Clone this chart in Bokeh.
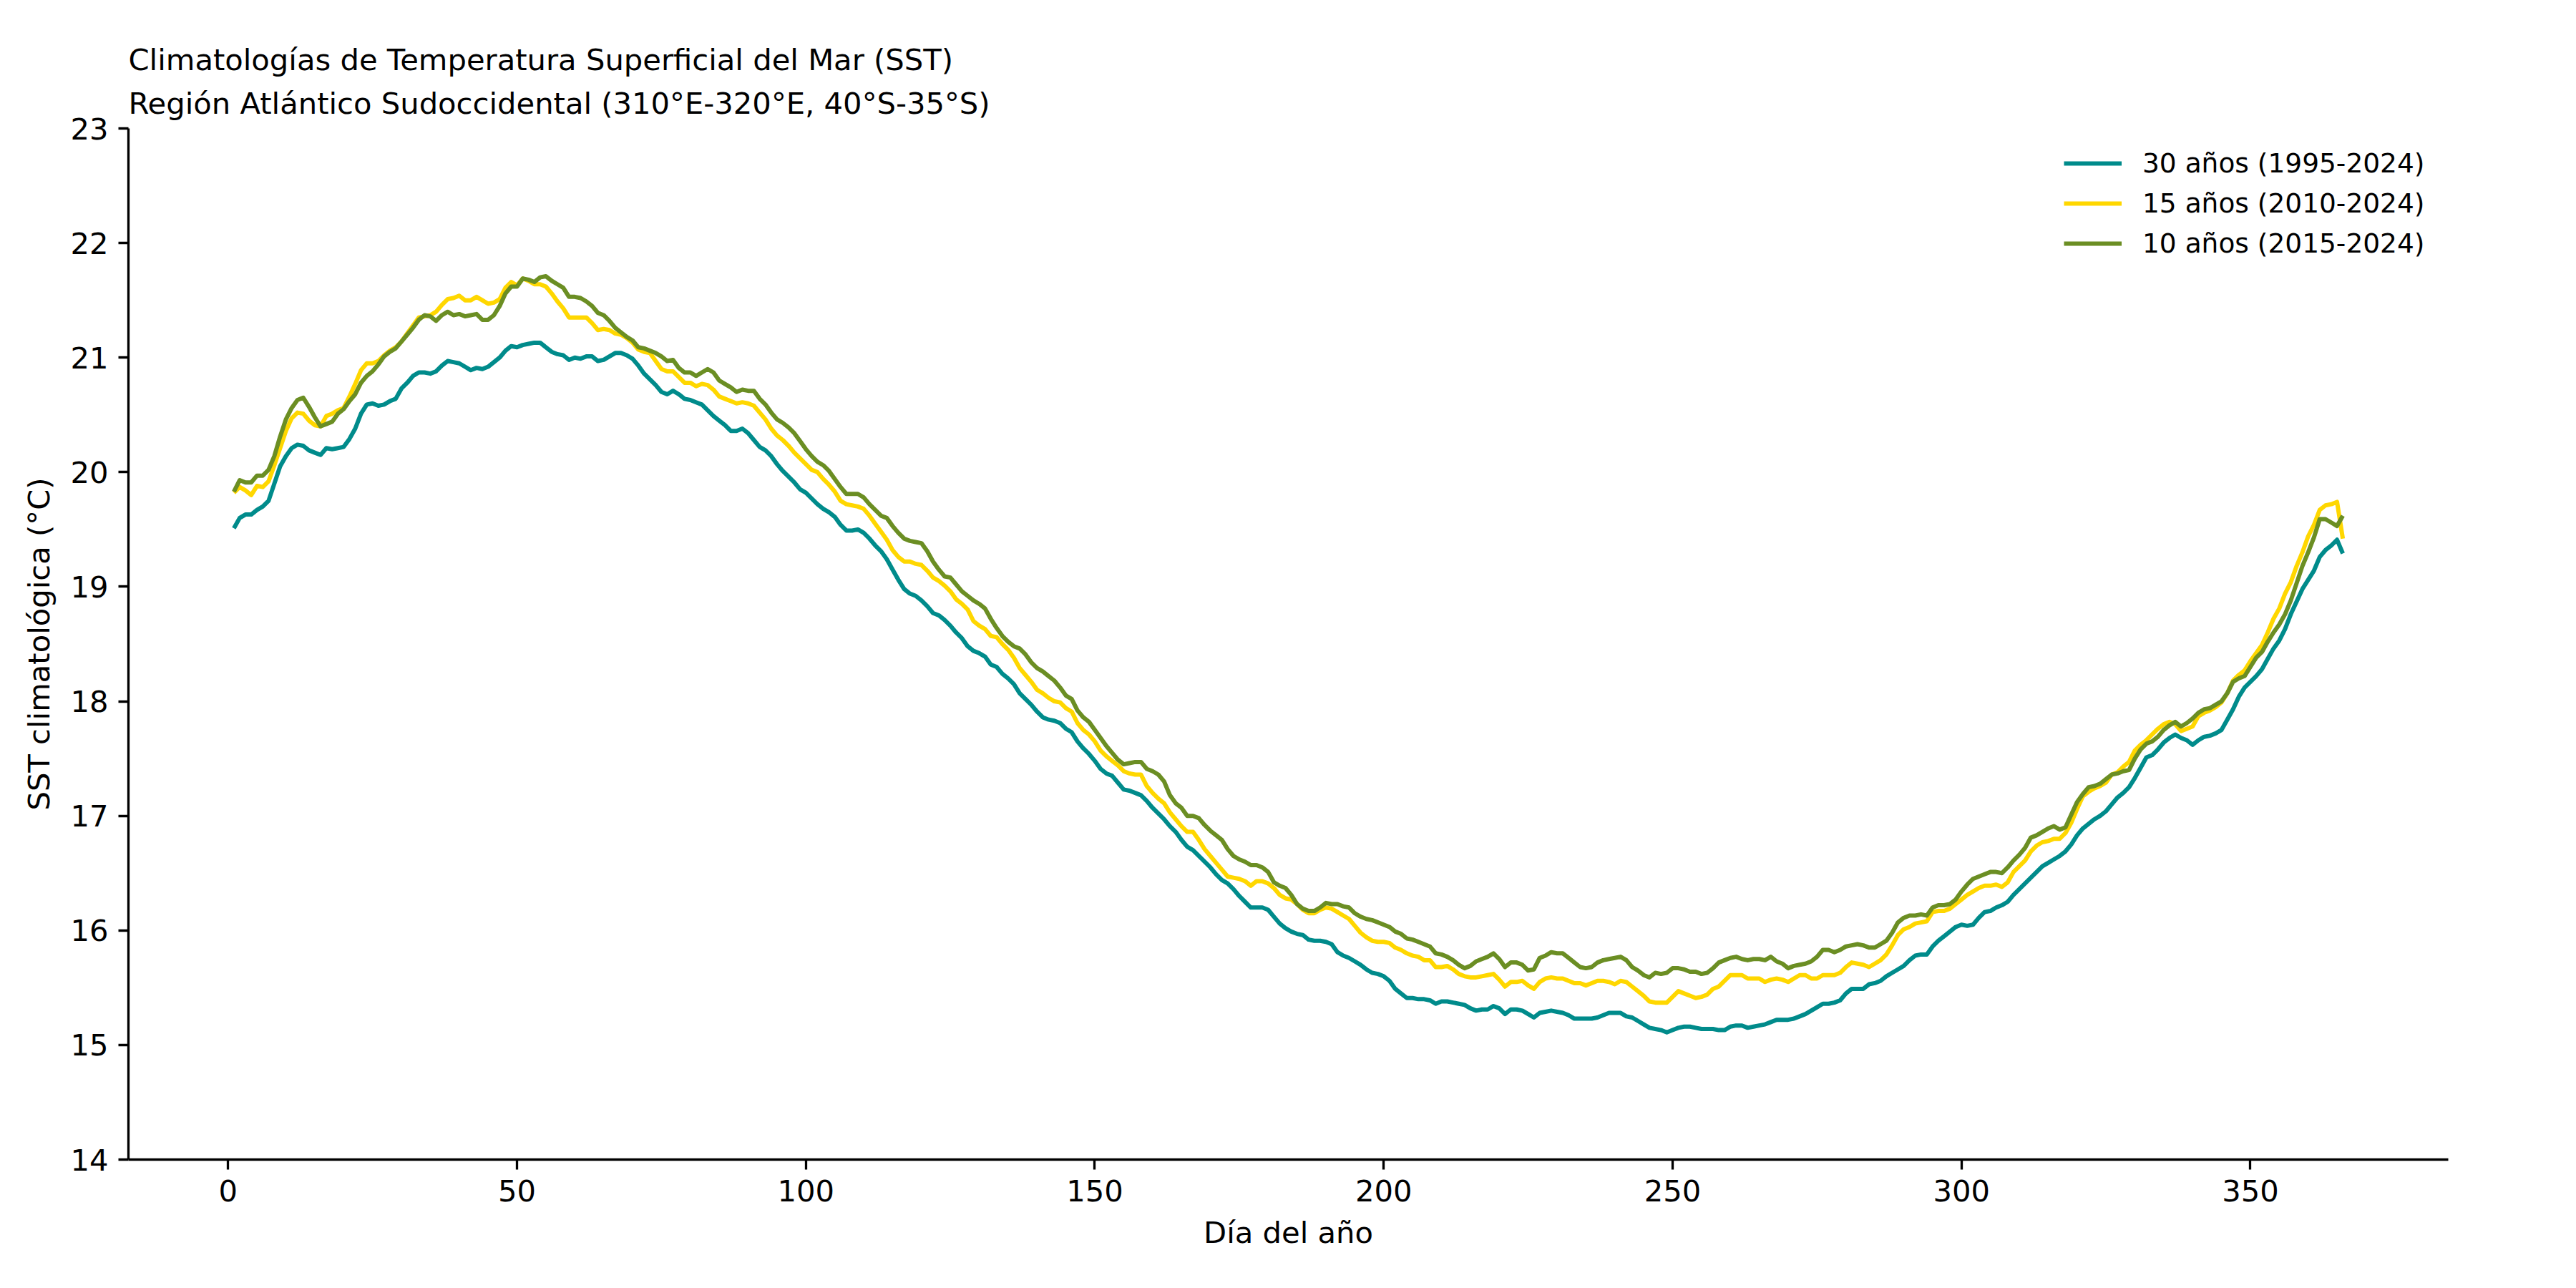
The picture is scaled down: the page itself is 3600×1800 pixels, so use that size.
from bokeh.plotting import figure
from bokeh.models import Range1d, FixedTicker, Title
from bokeh.embed import file_html
from bokeh.resources import INLINE

# Day of year 1..366
days = list(range(1, 367))

# Climatological SST (°C), 30-year baseline 1995-2024
sst_30 = [
    19.51, 19.60, 19.63, 19.63, 19.67, 19.70, 19.75, 19.90, 20.05, 20.14,
    20.21, 20.24, 20.23, 20.19, 20.17, 20.15, 20.21, 20.20, 20.21, 20.22,
    20.29, 20.38, 20.51, 20.59, 20.60, 20.58, 20.59, 20.62, 20.64, 20.73,
    20.78, 20.84, 20.87, 20.87, 20.86, 20.88, 20.93, 20.97, 20.96, 20.95,
    20.92, 20.89, 20.91, 20.90, 20.92, 20.96, 21.00, 21.06, 21.10, 21.09,
    21.11, 21.12, 21.13, 21.13, 21.09, 21.05, 21.03, 21.02, 20.98, 21.00,
    20.99, 21.01, 21.01, 20.97, 20.98, 21.01, 21.04, 21.04, 21.02, 20.99,
    20.93, 20.86, 20.81, 20.76, 20.70, 20.68, 20.71, 20.68, 20.64, 20.63,
    20.61, 20.59, 20.54, 20.49, 20.45, 20.41, 20.36, 20.36, 20.38, 20.34,
    20.28, 20.22, 20.19, 20.14, 20.07, 20.01, 19.96, 19.91, 19.85, 19.82,
    19.77, 19.72, 19.68, 19.65, 19.61, 19.54, 19.49, 19.49, 19.50, 19.47,
    19.42, 19.36, 19.31, 19.24, 19.15, 19.06, 18.98, 18.94, 18.92, 18.88,
    18.83, 18.77, 18.75, 18.71, 18.66, 18.60, 18.55, 18.48, 18.44, 18.42,
    18.39, 18.32, 18.30, 18.24, 18.20, 18.15, 18.07, 18.02, 17.97, 17.91,
    17.86, 17.84, 17.83, 17.81, 17.76, 17.73, 17.65, 17.59, 17.54, 17.48,
    17.41, 17.37, 17.35, 17.29, 17.23, 17.22, 17.20, 17.18, 17.13, 17.07,
    17.02, 16.97, 16.91, 16.86, 16.79, 16.73, 16.70, 16.65, 16.60, 16.55,
    16.49, 16.44, 16.41, 16.36, 16.30, 16.25, 16.20, 16.20, 16.20, 16.18,
    16.12, 16.06, 16.02, 15.99, 15.97, 15.96, 15.92, 15.91, 15.91, 15.90,
    15.88, 15.81, 15.78, 15.76, 15.73, 15.70, 15.66, 15.63, 15.62, 15.60,
    15.56, 15.49, 15.45, 15.41, 15.41, 15.40, 15.40, 15.39, 15.36, 15.38,
    15.38, 15.37, 15.36, 15.35, 15.32, 15.30, 15.31, 15.31, 15.34, 15.32,
    15.27, 15.31, 15.31, 15.30, 15.27, 15.24, 15.28, 15.29, 15.30, 15.29,
    15.28, 15.26, 15.23, 15.23, 15.23, 15.23, 15.24, 15.26, 15.28, 15.28,
    15.28, 15.25, 15.24, 15.21, 15.18, 15.15, 15.14, 15.13, 15.11, 15.13,
    15.15, 15.16, 15.16, 15.15, 15.14, 15.14, 15.14, 15.13, 15.13, 15.16,
    15.17, 15.17, 15.15, 15.16, 15.17, 15.18, 15.20, 15.22, 15.22, 15.22,
    15.23, 15.25, 15.27, 15.30, 15.33, 15.36, 15.36, 15.37, 15.39, 15.45,
    15.49, 15.49, 15.49, 15.53, 15.54, 15.56, 15.60, 15.63, 15.66, 15.69,
    15.74, 15.78, 15.79, 15.79, 15.86, 15.91, 15.95, 15.99, 16.03, 16.05,
    16.04, 16.05, 16.11, 16.16, 16.17, 16.20, 16.22, 16.25, 16.31, 16.36,
    16.41, 16.46, 16.51, 16.56, 16.59, 16.62, 16.65, 16.69, 16.75, 16.83,
    16.89, 16.93, 16.97, 17.00, 17.04, 17.10, 17.16, 17.20, 17.25, 17.33,
    17.42, 17.51, 17.53, 17.58, 17.64, 17.68, 17.71, 17.68, 17.66, 17.62,
    17.66, 17.69, 17.70, 17.72, 17.75, 17.84, 17.93, 18.04, 18.12, 18.17,
    18.22, 18.28, 18.37, 18.46, 18.53, 18.63, 18.76, 18.87, 18.98, 19.06,
    19.14, 19.26, 19.32, 19.36, 19.41, 19.29,
]

# Climatological SST (°C), 15-year baseline 2010-2024
sst_15 = [
    19.82, 19.87, 19.84, 19.80, 19.88, 19.87, 19.92, 20.06, 20.21, 20.36,
    20.47, 20.52, 20.51, 20.45, 20.41, 20.40, 20.49, 20.51, 20.54, 20.56,
    20.66, 20.77, 20.89, 20.95, 20.95, 20.97, 21.02, 21.06, 21.09, 21.14,
    21.21, 21.28, 21.35, 21.36, 21.37, 21.40, 21.46, 21.51, 21.52, 21.54,
    21.50, 21.50, 21.53, 21.50, 21.47, 21.48, 21.51, 21.61, 21.66, 21.63,
    21.69, 21.67, 21.64, 21.64, 21.62, 21.56, 21.49, 21.43, 21.35, 21.35,
    21.35, 21.35, 21.30, 21.24, 21.25, 21.24, 21.21, 21.20, 21.17, 21.13,
    21.07, 21.05, 21.04, 20.97, 20.90, 20.88, 20.88, 20.83, 20.78, 20.78,
    20.75, 20.77, 20.76, 20.72, 20.66, 20.64, 20.62, 20.60, 20.61, 20.60,
    20.58, 20.52, 20.46, 20.38, 20.32, 20.28, 20.23, 20.17, 20.12, 20.07,
    20.02, 20.00, 19.94, 19.89, 19.83, 19.75, 19.72, 19.71, 19.70, 19.68,
    19.62, 19.55, 19.48, 19.41, 19.32, 19.26, 19.22, 19.22, 19.20, 19.19,
    19.14, 19.08, 19.05, 19.01, 18.96, 18.89, 18.85, 18.80, 18.70, 18.66,
    18.63, 18.57, 18.56, 18.50, 18.45, 18.38, 18.29, 18.23, 18.17, 18.10,
    18.07, 18.03, 18.00, 17.99, 17.94, 17.91, 17.81, 17.75, 17.71, 17.65,
    17.57, 17.52, 17.48, 17.44, 17.39, 17.37, 17.36, 17.36, 17.26, 17.20,
    17.15, 17.11, 17.03, 16.97, 16.91, 16.86, 16.86, 16.79, 16.71, 16.65,
    16.59, 16.53, 16.47, 16.46, 16.45, 16.43, 16.39, 16.43, 16.43, 16.41,
    16.37, 16.31, 16.28, 16.27, 16.23, 16.18, 16.15, 16.15, 16.18, 16.20,
    16.19, 16.16, 16.13, 16.10, 16.04, 15.98, 15.94, 15.91, 15.90, 15.90,
    15.89, 15.85, 15.83, 15.80, 15.78, 15.77, 15.74, 15.74, 15.68, 15.68,
    15.69, 15.66, 15.62, 15.60, 15.59, 15.59, 15.60, 15.61, 15.62, 15.57,
    15.51, 15.55, 15.55, 15.56, 15.52, 15.49, 15.55, 15.58, 15.59, 15.58,
    15.58, 15.56, 15.54, 15.54, 15.52, 15.54, 15.56, 15.56, 15.55, 15.53,
    15.56, 15.55, 15.51, 15.47, 15.43, 15.38, 15.37, 15.37, 15.37, 15.42,
    15.47, 15.45, 15.43, 15.41, 15.42, 15.44, 15.49, 15.51, 15.56, 15.61,
    15.61, 15.61, 15.58, 15.58, 15.58, 15.55, 15.57, 15.58, 15.57, 15.55,
    15.58, 15.61, 15.61, 15.58, 15.58, 15.61, 15.61, 15.61, 15.63, 15.68,
    15.72, 15.71, 15.70, 15.68, 15.71, 15.74, 15.79, 15.87, 15.96, 16.01,
    16.03, 16.06, 16.07, 16.08, 16.16, 16.17, 16.17, 16.19, 16.23, 16.27,
    16.31, 16.34, 16.37, 16.39, 16.39, 16.40, 16.38, 16.42, 16.51, 16.56,
    16.61, 16.69, 16.74, 16.77, 16.78, 16.80, 16.80, 16.85, 16.94, 17.06,
    17.17, 17.21, 17.24, 17.26, 17.29, 17.36, 17.38, 17.43, 17.47, 17.57,
    17.62, 17.66, 17.71, 17.76, 17.80, 17.82, 17.80, 17.74, 17.76, 17.78,
    17.87, 17.90, 17.92, 17.95, 17.99, 18.07, 18.18, 18.23, 18.27, 18.35,
    18.42, 18.49, 18.60, 18.72, 18.81, 18.94, 19.04, 19.18, 19.30, 19.44,
    19.54, 19.67, 19.71, 19.72, 19.74, 19.42,
]

# Climatological SST (°C), 10-year baseline 2015-2024
sst_10 = [
    19.83, 19.93, 19.91, 19.91, 19.97, 19.97, 20.02, 20.14, 20.31, 20.46,
    20.56, 20.63, 20.65, 20.57, 20.48, 20.40, 20.42, 20.44, 20.51, 20.55,
    20.62, 20.68, 20.78, 20.84, 20.88, 20.94, 21.01, 21.05, 21.08, 21.14,
    21.20, 21.26, 21.33, 21.37, 21.36, 21.32, 21.37, 21.40, 21.37, 21.38,
    21.36, 21.37, 21.38, 21.33, 21.33, 21.37, 21.45, 21.56, 21.62, 21.62,
    21.69, 21.68, 21.66, 21.70, 21.71, 21.67, 21.64, 21.61, 21.53, 21.53,
    21.52, 21.49, 21.45, 21.39, 21.37, 21.32, 21.26, 21.22, 21.18, 21.15,
    21.09, 21.08, 21.06, 21.04, 21.01, 20.97, 20.98, 20.91, 20.87, 20.87,
    20.84, 20.87, 20.90, 20.87, 20.80, 20.77, 20.74, 20.70, 20.72, 20.71,
    20.71, 20.64, 20.59, 20.52, 20.46, 20.43, 20.39, 20.34, 20.27, 20.20,
    20.14, 20.09, 20.06, 20.01, 19.94, 19.87, 19.81, 19.81, 19.81, 19.78,
    19.72, 19.67, 19.62, 19.60, 19.53, 19.47, 19.42, 19.40, 19.39, 19.38,
    19.31, 19.22, 19.15, 19.09, 19.08, 19.02, 18.96, 18.92, 18.88, 18.85,
    18.81, 18.72, 18.64, 18.57, 18.52, 18.48, 18.46, 18.41, 18.34, 18.29,
    18.26, 18.22, 18.18, 18.12, 18.05, 18.02, 17.92, 17.86, 17.82, 17.75,
    17.68, 17.61, 17.55, 17.49, 17.45, 17.46, 17.47, 17.47, 17.41, 17.39,
    17.36, 17.30, 17.18, 17.11, 17.07, 17.00, 17.00, 16.98, 16.92, 16.87,
    16.83, 16.79, 16.71, 16.65, 16.62, 16.60, 16.57, 16.57, 16.55, 16.51,
    16.42, 16.39, 16.37, 16.31, 16.23, 16.19, 16.17, 16.17, 16.20, 16.24,
    16.23, 16.23, 16.21, 16.20, 16.15, 16.12, 16.10, 16.09, 16.07, 16.05,
    16.03, 15.99, 15.97, 15.93, 15.92, 15.90, 15.88, 15.86, 15.80, 15.79,
    15.77, 15.74, 15.70, 15.67, 15.69, 15.73, 15.75, 15.77, 15.80, 15.75,
    15.68, 15.72, 15.72, 15.70, 15.65, 15.66, 15.76, 15.78, 15.81, 15.80,
    15.80, 15.76, 15.72, 15.68, 15.67, 15.68, 15.72, 15.74, 15.75, 15.76,
    15.77, 15.74, 15.68, 15.65, 15.61, 15.59, 15.63, 15.62, 15.63, 15.67,
    15.67, 15.66, 15.64, 15.64, 15.62, 15.63, 15.67, 15.72, 15.74, 15.76,
    15.77, 15.75, 15.74, 15.75, 15.75, 15.74, 15.77, 15.73, 15.71, 15.67,
    15.69, 15.70, 15.71, 15.73, 15.77, 15.83, 15.83, 15.81, 15.83, 15.86,
    15.87, 15.88, 15.87, 15.85, 15.85, 15.88, 15.91, 15.98, 16.07, 16.11,
    16.13, 16.13, 16.14, 16.13, 16.20, 16.22, 16.22, 16.23, 16.27, 16.34,
    16.40, 16.45, 16.47, 16.49, 16.51, 16.51, 16.50, 16.55, 16.61, 16.66,
    16.72, 16.81, 16.83, 16.86, 16.89, 16.91, 16.88, 16.90, 17.01, 17.12,
    17.19, 17.25, 17.26, 17.28, 17.32, 17.36, 17.37, 17.39, 17.40, 17.50,
    17.58, 17.63, 17.65, 17.69, 17.75, 17.79, 17.82, 17.78, 17.81, 17.85,
    17.90, 17.93, 17.94, 17.97, 18.00, 18.07, 18.17, 18.20, 18.22, 18.30,
    18.38, 18.43, 18.52, 18.60, 18.67, 18.76, 18.88, 19.03, 19.18, 19.30,
    19.43, 19.59, 19.59, 19.56, 19.53, 19.62,
]

series_labels = ["30 años (1995-2024)", "15 años (2010-2024)", "10 años (2015-2024)"]
series_colors = ["#008B8B", "#FFD700", "#6B8E23"]

x_ticks = [0, 50, 100, 150, 200, 250, 300, 350]
y_ticks = [14, 15, 16, 17, 18, 19, 20, 21, 22, 23]

FONT = "DejaVu Sans"
BASE = "41.7px"

p = figure(
    width=3600, height=1800,
    output_backend="svg", toolbar_location=None,
    x_range=Range1d(-17.25, 384.25), y_range=Range1d(14, 23),
    min_border_left=179, min_border_right=179,
    min_border_top=179, min_border_bottom=180,
    background_fill_color="white", border_fill_color="white",
)
p.outline_line_color = None
p.grid.visible = False

for values, label, color in zip([sst_30, sst_15, sst_10], series_labels, series_colors):
    p.line(days, values, line_color=color, line_width=6, line_join="round",
           legend_label=label)

# Two-line title, left aligned; the subtitle sits closest to the frame
sub = Title(text="Región Atlántico Sudoccidental (310°E-320°E, 40°S-35°S)",
            align="left", text_font=FONT, text_font_size=BASE,
            text_font_style="normal", text_color="black", standoff=21)
main = Title(text="Climatologías de Temperatura Superficial del Mar (SST)",
             align="left", text_font=FONT, text_font_size=BASE,
             text_font_style="normal", text_color="black", standoff=0)
p.add_layout(sub, "above")
p.add_layout(main, "above")

p.xaxis.ticker = FixedTicker(ticks=x_ticks)
p.yaxis.ticker = FixedTicker(ticks=y_ticks)
p.xaxis.axis_label = "Día del año"
p.yaxis.axis_label = "SST climatológica (°C)"

for ax in (p.xaxis, p.yaxis):
    ax.axis_line_width = 3.3
    ax.axis_line_color = "black"
    ax.major_tick_in = 0
    ax.major_tick_out = 14
    ax.major_tick_line_width = 3.3
    ax.major_tick_line_color = "black"
    ax.minor_tick_line_color = None
    ax.major_label_text_font = FONT
    ax.major_label_text_font_size = BASE
    ax.major_label_text_color = "black"
    ax.major_label_standoff = 14
    ax.axis_label_text_font = FONT
    ax.axis_label_text_font_size = BASE
    ax.axis_label_text_font_style = "normal"
    ax.axis_label_text_color = "black"
    ax.axis_label_standoff = 16

leg = p.legend[0]
leg.location = (2705, 1258)
leg.border_line_color = None
leg.background_fill_alpha = 0
leg.padding = 0
leg.margin = 0
leg.spacing = 12
leg.glyph_width = 81
leg.glyph_height = 38
leg.label_height = 38
leg.label_standoff = 29
leg.label_text_font = FONT
leg.label_text_font_size = "37.5px"
leg.label_text_color = "black"

open("out.html", "w").write(file_html(p, INLINE))
